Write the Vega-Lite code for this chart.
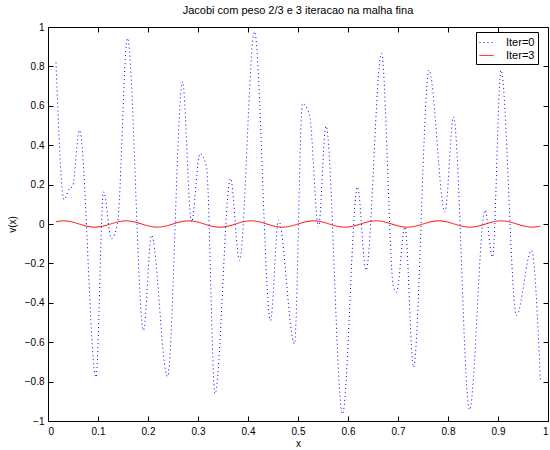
{
  "$schema": "https://vega.github.io/schema/vega-lite/v6.json",
  "width": 500,
  "height": 394,
  "autosize": {"type": "none"},
  "padding": {"left": 48, "top": 27, "right": 2, "bottom": 29},
  "background": "white",
  "title": {"text": "Jacobi com peso 2/3 e 3 iteracao na malha fina", "font": "Liberation Sans", "fontSize": 11, "fontWeight": "normal", "color": "black", "offset": 6, "anchor": "middle", "frame": "group"},
  "config": {
    "view": {"stroke": "black", "strokeWidth": 1},
    "axis": {"font": "Liberation Sans", "labelFont": "Liberation Sans", "titleFont": "Liberation Sans", "labelFontSize": 10, "titleFontSize": 10, "titleFontWeight": "normal", "labelColor": "black", "titleColor": "black", "tickColor": "black", "domain": false, "grid": false, "tickSize": -5}
  },
  "datasets": {
    "v": [
      {"x": 0.016, "v": 0.82, "s": "Iter=0"},
      {"x": 0.032, "v": 0.124, "s": "Iter=0"},
      {"x": 0.043, "v": 0.18, "s": "Iter=0"},
      {"x": 0.049, "v": 0.19, "s": "Iter=0"},
      {"x": 0.063, "v": 0.476, "s": "Iter=0"},
      {"x": 0.096, "v": -0.778, "s": "Iter=0"},
      {"x": 0.111, "v": 0.163, "s": "Iter=0"},
      {"x": 0.127, "v": -0.074, "s": "Iter=0"},
      {"x": 0.139, "v": 0.002, "s": "Iter=0"},
      {"x": 0.159, "v": 0.943, "s": "Iter=0"},
      {"x": 0.191, "v": -0.54, "s": "Iter=0"},
      {"x": 0.207, "v": -0.057, "s": "Iter=0"},
      {"x": 0.239, "v": -0.774, "s": "Iter=0"},
      {"x": 0.269, "v": 0.722, "s": "Iter=0"},
      {"x": 0.287, "v": 0.01, "s": "Iter=0"},
      {"x": 0.304, "v": 0.358, "s": "Iter=0"},
      {"x": 0.317, "v": 0.29, "s": "Iter=0"},
      {"x": 0.334, "v": -0.862, "s": "Iter=0"},
      {"x": 0.365, "v": 0.231, "s": "Iter=0"},
      {"x": 0.383, "v": -0.185, "s": "Iter=0"},
      {"x": 0.413, "v": 0.976, "s": "Iter=0"},
      {"x": 0.445, "v": -0.49, "s": "Iter=0"},
      {"x": 0.461, "v": 0.019, "s": "Iter=0"},
      {"x": 0.493, "v": -0.608, "s": "Iter=0"},
      {"x": 0.509, "v": 0.612, "s": "Iter=0"},
      {"x": 0.523, "v": 0.553, "s": "Iter=0"},
      {"x": 0.541, "v": -0.015, "s": "Iter=0"},
      {"x": 0.556, "v": 0.497, "s": "Iter=0"},
      {"x": 0.589, "v": -0.964, "s": "Iter=0"},
      {"x": 0.619, "v": 0.188, "s": "Iter=0"},
      {"x": 0.636, "v": -0.235, "s": "Iter=0"},
      {"x": 0.667, "v": 0.866, "s": "Iter=0"},
      {"x": 0.691, "v": -0.32, "s": "Iter=0"},
      {"x": 0.697, "v": -0.346, "s": "Iter=0"},
      {"x": 0.714, "v": -0.015, "s": "Iter=0"},
      {"x": 0.731, "v": -0.727, "s": "Iter=0"},
      {"x": 0.762, "v": 0.781, "s": "Iter=0"},
      {"x": 0.794, "v": 0.061, "s": "Iter=0"},
      {"x": 0.811, "v": 0.544, "s": "Iter=0"},
      {"x": 0.843, "v": -0.944, "s": "Iter=0"},
      {"x": 0.874, "v": 0.07, "s": "Iter=0"},
      {"x": 0.889, "v": -0.168, "s": "Iter=0"},
      {"x": 0.906, "v": 0.781, "s": "Iter=0"},
      {"x": 0.937, "v": -0.464, "s": "Iter=0"},
      {"x": 0.967, "v": -0.134, "s": "Iter=0"},
      {"x": 0.985, "v": -0.803, "s": "Iter=0"},
      {"x": 0.015625, "v": 0.0113, "s": "Iter=3"},
      {"x": 0.03125, "v": 0.016, "s": "Iter=3"},
      {"x": 0.046875, "v": 0.0113, "s": "Iter=3"},
      {"x": 0.0625, "v": 0, "s": "Iter=3"},
      {"x": 0.078125, "v": -0.0113, "s": "Iter=3"},
      {"x": 0.09375, "v": -0.016, "s": "Iter=3"},
      {"x": 0.109375, "v": -0.0113, "s": "Iter=3"},
      {"x": 0.125, "v": 0, "s": "Iter=3"},
      {"x": 0.140625, "v": 0.0113, "s": "Iter=3"},
      {"x": 0.15625, "v": 0.016, "s": "Iter=3"},
      {"x": 0.171875, "v": 0.0113, "s": "Iter=3"},
      {"x": 0.1875, "v": 0, "s": "Iter=3"},
      {"x": 0.203125, "v": -0.0113, "s": "Iter=3"},
      {"x": 0.21875, "v": -0.016, "s": "Iter=3"},
      {"x": 0.234375, "v": -0.0113, "s": "Iter=3"},
      {"x": 0.25, "v": 0, "s": "Iter=3"},
      {"x": 0.265625, "v": 0.0113, "s": "Iter=3"},
      {"x": 0.28125, "v": 0.016, "s": "Iter=3"},
      {"x": 0.296875, "v": 0.0113, "s": "Iter=3"},
      {"x": 0.3125, "v": 0, "s": "Iter=3"},
      {"x": 0.328125, "v": -0.0113, "s": "Iter=3"},
      {"x": 0.34375, "v": -0.016, "s": "Iter=3"},
      {"x": 0.359375, "v": -0.0113, "s": "Iter=3"},
      {"x": 0.375, "v": 0, "s": "Iter=3"},
      {"x": 0.390625, "v": 0.0113, "s": "Iter=3"},
      {"x": 0.40625, "v": 0.016, "s": "Iter=3"},
      {"x": 0.421875, "v": 0.0113, "s": "Iter=3"},
      {"x": 0.4375, "v": 0, "s": "Iter=3"},
      {"x": 0.453125, "v": -0.0113, "s": "Iter=3"},
      {"x": 0.46875, "v": -0.016, "s": "Iter=3"},
      {"x": 0.484375, "v": -0.0113, "s": "Iter=3"},
      {"x": 0.5, "v": 0, "s": "Iter=3"},
      {"x": 0.515625, "v": 0.0113, "s": "Iter=3"},
      {"x": 0.53125, "v": 0.016, "s": "Iter=3"},
      {"x": 0.546875, "v": 0.0113, "s": "Iter=3"},
      {"x": 0.5625, "v": 0, "s": "Iter=3"},
      {"x": 0.578125, "v": -0.0113, "s": "Iter=3"},
      {"x": 0.59375, "v": -0.016, "s": "Iter=3"},
      {"x": 0.609375, "v": -0.0113, "s": "Iter=3"},
      {"x": 0.625, "v": 0, "s": "Iter=3"},
      {"x": 0.640625, "v": 0.0113, "s": "Iter=3"},
      {"x": 0.65625, "v": 0.016, "s": "Iter=3"},
      {"x": 0.671875, "v": 0.0113, "s": "Iter=3"},
      {"x": 0.6875, "v": 0, "s": "Iter=3"},
      {"x": 0.703125, "v": -0.0113, "s": "Iter=3"},
      {"x": 0.71875, "v": -0.016, "s": "Iter=3"},
      {"x": 0.734375, "v": -0.0113, "s": "Iter=3"},
      {"x": 0.75, "v": 0, "s": "Iter=3"},
      {"x": 0.765625, "v": 0.0113, "s": "Iter=3"},
      {"x": 0.78125, "v": 0.016, "s": "Iter=3"},
      {"x": 0.796875, "v": 0.0113, "s": "Iter=3"},
      {"x": 0.8125, "v": 0, "s": "Iter=3"},
      {"x": 0.828125, "v": -0.0113, "s": "Iter=3"},
      {"x": 0.84375, "v": -0.016, "s": "Iter=3"},
      {"x": 0.859375, "v": -0.0113, "s": "Iter=3"},
      {"x": 0.875, "v": 0, "s": "Iter=3"},
      {"x": 0.890625, "v": 0.0113, "s": "Iter=3"},
      {"x": 0.90625, "v": 0.016, "s": "Iter=3"},
      {"x": 0.921875, "v": 0.0113, "s": "Iter=3"},
      {"x": 0.9375, "v": 0, "s": "Iter=3"},
      {"x": 0.953125, "v": -0.0113, "s": "Iter=3"},
      {"x": 0.96875, "v": -0.016, "s": "Iter=3"},
      {"x": 0.984375, "v": -0.0113, "s": "Iter=3"}
    ]
  },
  "data": {"name": "v"},
  "layer": [
    {
      "mark": {"type": "line", "interpolate": "monotone", "strokeWidth": 1},
      "encoding": {
        "x": {"field": "x", "type": "quantitative", "scale": {"domain": [0, 1], "nice": false, "zero": false},
          "axis": {"orient": "bottom", "values": [0, 0.1, 0.2, 0.3, 0.4, 0.5, 0.6, 0.7, 0.8, 0.9, 1], "format": "~g", "title": "x", "titlePadding": 2, "labelPadding": 10}},
        "y": {"field": "v", "type": "quantitative", "scale": {"domain": [-1, 1], "nice": false},
          "axis": {"orient": "left", "values": [-1, -0.8, -0.6, -0.4, -0.2, 0, 0.2, 0.4, 0.6, 0.8, 1], "format": "~g", "title": "v(x)", "titlePadding": 7, "labelPadding": 9}},
        "color": {"field": "s", "type": "nominal", "scale": {"domain": ["Iter=0", "Iter=3"], "range": ["#0000ff", "#ff0000"]},
          "legend": {"title": null, "orient": "none", "legendX": 428, "legendY": 5, "fillColor": "white", "strokeColor": "black", "padding": 3, "symbolType": "stroke", "symbolSize": 196, "symbolStrokeWidth": 1, "labelFont": "Liberation Sans", "labelFontSize": 11, "labelColor": "black", "labelOffset": 12, "rowPadding": -3}},
        "strokeDash": {"field": "s", "type": "nominal", "scale": {"domain": ["Iter=0", "Iter=3"], "range": [[1, 3], [1, 0]]},
          "legend": {"title": null, "orient": "none", "legendX": 428, "legendY": 5, "fillColor": "white", "strokeColor": "black", "padding": 3, "symbolType": "stroke", "symbolSize": 196, "symbolStrokeWidth": 1, "labelFont": "Liberation Sans", "labelFontSize": 11, "labelColor": "black", "labelOffset": 12, "rowPadding": -3}}
      }
    },
    {
      "mark": {"type": "point", "opacity": 0},
      "encoding": {
        "x": {"field": "x", "type": "quantitative", "axis": {"orient": "top", "values": [0, 0.1, 0.2, 0.3, 0.4, 0.5, 0.6, 0.7, 0.8, 0.9, 1], "labels": false, "title": null}},
        "y": {"field": "v", "type": "quantitative", "axis": {"orient": "right", "values": [-1, -0.8, -0.6, -0.4, -0.2, 0, 0.2, 0.4, 0.6, 0.8, 1], "labels": false, "title": null}}
      }
    }
  ],
  "resolve": {"axis": {"x": "independent", "y": "independent"}}
}
